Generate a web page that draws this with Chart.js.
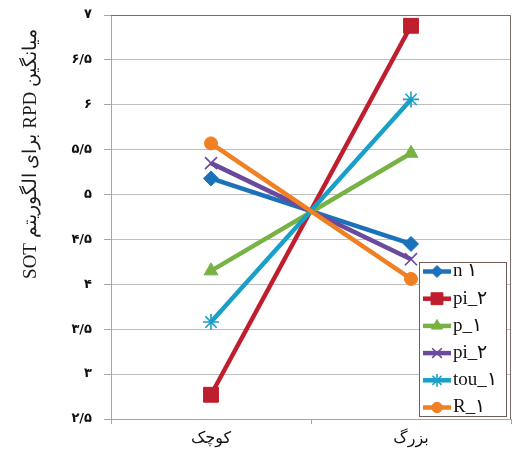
<!DOCTYPE html>
<html>
<head>
<meta charset="utf-8">
<script src="https://cdn.jsdelivr.net/npm/chart.js@4/dist/chart.umd.min.js"></script>
<style>
  html, body { margin: 0; padding: 0; background: #ffffff; }
  #wrap { width: 517px; height: 461px; position: relative; }
</style>
</head>
<body>
<div id="wrap"><canvas id="c" width="517" height="461"></canvas></div>
<script>
// Problem size categories
const categories = ['کوچک', 'بزرگ'];

// Series names
const seriesNames = ['n ۱', 'pi_۲', 'p_۱', 'pi_۲', 'tou_۱', 'R_۱'];

// Mean RPD per series for small / large problems
const n1Values   = [5.18, 4.45];
const pi2aValues = [2.77, 6.88];
const p1Values   = [4.15, 5.46];
const pi2bValues = [5.35, 4.28];
const tou1Values = [3.58, 6.06];
const r1Values   = [5.57, 4.06];

// Y axis range
const yMin = 2.5;
const yMax = 7;
const yStep = 0.5;

const yTitle = 'میانگین RPD برای الگوریتم SOT';

const seriesValues = [n1Values, pi2aValues, p1Values, pi2bValues, tou1Values, r1Values];
const seriesColors = ['#1B72BA', '#BE1E2D', '#79B244', '#6A4A9C', '#1AA0C8', '#F08024'];
const seriesMarkers = [
  { style: 'rectRot', radius: 7.5, border: 1 },
  { style: 'rect', radius: 10.5, border: 1 },
  { style: 'triangle', radius: 8, border: 1 },
  { style: 'crossRot', radius: 8.5, border: 1.6 },
  { style: 'star', radius: 8, border: 1.6 },
  { style: 'circle', radius: 6.5, border: 1 }
];

const faDigits = '۰۱۲۳۴۵۶۷۸۹';
function toPersian(v) {
  return String(v).replace(/[0-9]/g, d => faDigits[+d]).replace('.', '/');
}

const datasets = seriesNames.map((name, i) => ({
  label: name,
  data: seriesValues[i],
  borderColor: seriesColors[i],
  backgroundColor: seriesColors[i],
  borderWidth: 4.5,
  pointStyle: seriesMarkers[i].style,
  pointRadius: seriesMarkers[i].radius,
  pointHoverRadius: seriesMarkers[i].radius,
  pointBorderWidth: seriesMarkers[i].border,
  pointBorderColor: seriesColors[i],
  pointBackgroundColor: seriesColors[i],
  tension: 0,
  order: seriesNames.length - i
}));

// Plot frame (top and right edges) and the y title
const framePlugin = {
  id: 'frame',
  beforeDatasetsDraw(chart) {
    const { ctx, chartArea: a } = chart;
    ctx.save();
    ctx.strokeStyle = '#7A6B66';
    ctx.lineWidth = 1;
    ctx.beginPath();
    ctx.moveTo(a.left, a.top + 0.5);
    ctx.lineTo(a.right - 0.5, a.top + 0.5);
    ctx.lineTo(a.right - 0.5, a.bottom);
    ctx.stroke();
    ctx.restore();
  },
  afterDraw(chart) {
    const { ctx, chartArea: a } = chart;
    ctx.save();
    ctx.translate(31, a.top + 139);
    ctx.rotate(-Math.PI / 2);
    ctx.direction = 'rtl';
    ctx.textAlign = 'center';
    ctx.textBaseline = 'middle';
    ctx.fillStyle = '#1a1a1a';
    ctx.font = '19px "Liberation Serif", "DejaVu Serif", serif';
    ctx.fillText(yTitle, 0, 0);
    ctx.restore();
  }
};

// Boxed legend showing each series' line with its marker
const legendPlugin = {
  id: 'lineLegend',
  afterDraw(chart) {
    const { ctx, chartArea: a } = chart;
    const x0 = a.right - 92, y0 = a.bottom - 157, w = 87, h = 154;
    ctx.save();
    ctx.fillStyle = '#ffffff';
    ctx.fillRect(x0, y0, w, h);
    ctx.strokeStyle = '#6E5C57';
    ctx.lineWidth = 1;
    ctx.strokeRect(x0 + 0.5, y0 + 0.5, w, h);
    chart.data.datasets.forEach((ds, i) => {
      const cy = y0 + 9.5 + i * 27.2;
      ctx.strokeStyle = ds.borderColor;
      ctx.lineWidth = 4.5;
      ctx.beginPath();
      ctx.moveTo(x0 + 4, cy);
      ctx.lineTo(x0 + 32, cy);
      ctx.stroke();
      ctx.fillStyle = ds.pointBackgroundColor;
      ctx.strokeStyle = ds.pointBorderColor;
      ctx.lineWidth = ds.pointBorderWidth;
      Chart.helpers.drawPoint(ctx, {
        pointStyle: ds.pointStyle,
        radius: ds.pointRadius * 0.8,
        rotation: 0,
        borderWidth: ds.pointBorderWidth
      }, x0 + 18, cy);
      ctx.fillStyle = '#111111';
      ctx.font = '19px "Liberation Serif", "DejaVu Serif", serif';
      ctx.textAlign = 'left';
      ctx.textBaseline = 'middle';
      ctx.fillText(ds.label, x0 + 34, cy);
    });
    ctx.restore();
  }
};

new Chart(document.getElementById('c'), {
  type: 'line',
  data: { labels: categories, datasets },
  plugins: [framePlugin, legendPlugin],
  options: {
    responsive: false,
    animation: false,
    devicePixelRatio: 1,
    layout: { autoPadding: false, padding: { left: 0, right: 6, top: 15, bottom: 0 } },
    plugins: {
      legend: { display: false },
      tooltip: { enabled: false }
    },
    scales: {
      x: {
        type: 'category',
        offset: true,
        afterFit(scale) {
          scale.height = 42;
          scale.paddingLeft = 0;
          scale.paddingRight = 0;
        },
        grid: {
          offset: true,
          drawOnChartArea: false,
          drawTicks: true,
          tickLength: 5,
          tickColor: '#A6A6A6'
        },
        border: { color: '#A6A6A6', width: 1 },
        ticks: {
          padding: 5,
          color: '#111111',
          font: { family: '"DejaVu Sans", sans-serif', size: 16 }
        }
      },
      y: {
        min: yMin,
        max: yMax,
        afterFit(scale) {
          scale.width = 111;
          scale.paddingTop = 0;
          scale.paddingBottom = 0;
        },
        grid: {
          color: '#BDBDBD',
          tickLength: 7,
          tickColor: '#A6A6A6'
        },
        border: { color: '#A6A6A6', width: 1 },
        ticks: {
          stepSize: yStep,
          padding: 12,
          color: '#111111',
          font: { family: '"DejaVu Sans", sans-serif', size: 13, weight: 'bold' },
          callback: v => toPersian(v)
        }
      }
    }
  }
});
</script>
</body>
</html>
